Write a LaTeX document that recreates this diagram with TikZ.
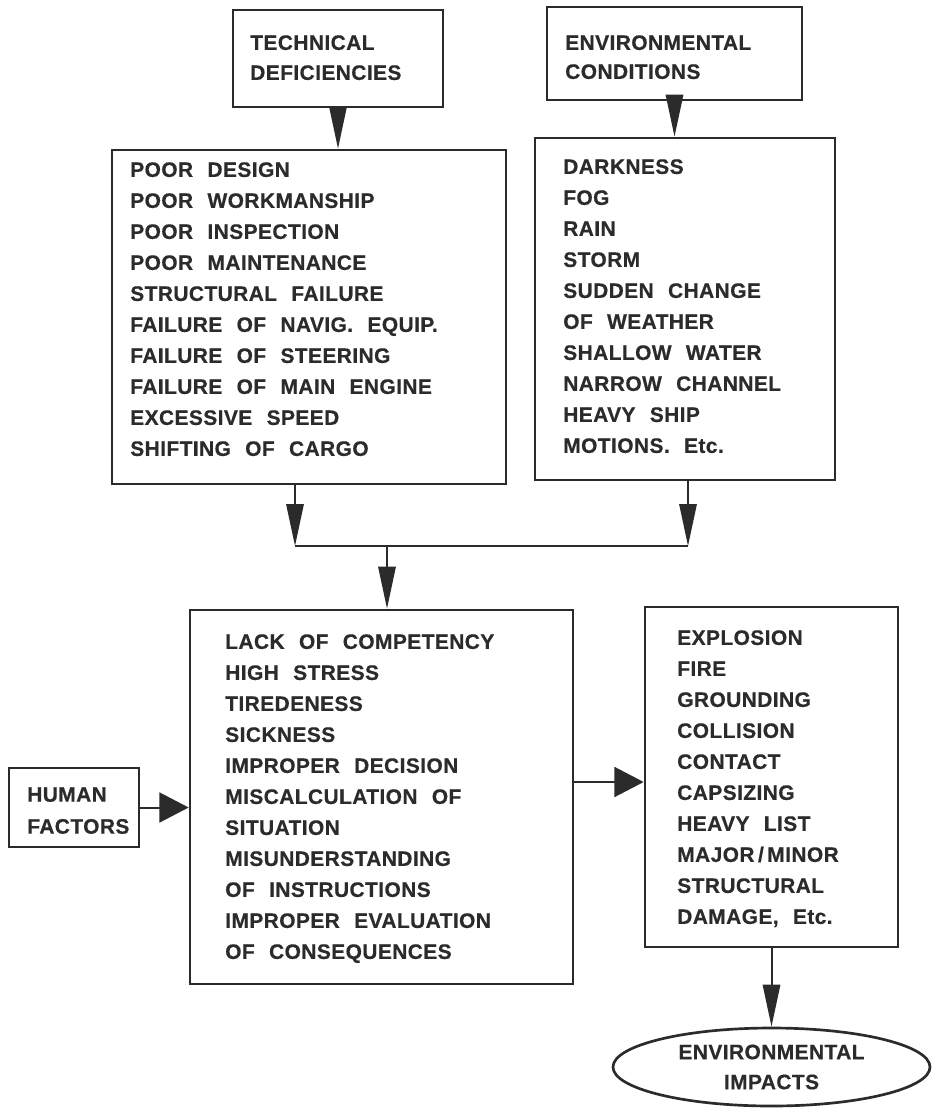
\documentclass[tikz,border=0pt]{standalone}
\usepackage{fontspec}
\setmainfont{Liberation Sans}[WordSpace=2.3, LetterSpace=2, BoldFeatures={FakeBold=0.5}]
\usetikzlibrary{arrows.meta,shapes.geometric}
\definecolor{ink}{HTML}{2B2B2B}
\tikzset{
  box/.style={draw=ink, line width=2pt, inner sep=0pt},
  txt/.style={anchor=north west, inner sep=0pt, align=left, text=ink,
    font=\fontsize{15.7}{23.25}\selectfont\bfseries},
  vtip/.style={draw=ink, line width=1.5pt, -{Triangle[length=31.5pt,width=13pt]}},
  htip/.style={draw=ink, line width=1.5pt, -{Triangle[length=22pt,width=22.5pt]}},
  link/.style={draw=ink, line width=1.5pt}
}
\begin{document}
\begin{tikzpicture}[x=0.75pt,y=-0.75pt]
\fill[white] (0,0) rectangle (933,1112);
\useasboundingbox (0,0) rectangle (933,1112);
% boxes
\node[box, minimum width=210*0.75pt, minimum height=97*0.75pt] (th) at (338,58.5) {};
\node[box, minimum width=255*0.75pt, minimum height=93*0.75pt] (eh) at (674.5,53.5) {};
\node[box, minimum width=394*0.75pt, minimum height=334*0.75pt] (tl) at (309,317) {};
\node[box, minimum width=300*0.75pt, minimum height=342*0.75pt] (el) at (685,309) {};
\node[box, minimum width=383*0.75pt, minimum height=374*0.75pt] (mid) at (381.5,797) {};
\node[box, minimum width=130*0.75pt, minimum height=79*0.75pt] (hf) at (74,807.5) {};
\node[box, minimum width=253*0.75pt, minimum height=340*0.75pt] (rb) at (771.5,777) {};
\node[box, ellipse, minimum width=317*0.75pt, minimum height=78*0.75pt, align=center,
  text=ink, font=\fontsize{15.7}{22.5}\selectfont\bfseries] (imp) at (771.5,1067) {ENVIRONMENTAL\\IMPACTS};
% texts
\node[txt, font=\fontsize{15.7}{22.5}\selectfont\bfseries] (tht) at (250,35) {TECHNICAL\\DEFICIENCIES};
\node[txt, font=\fontsize{15.7}{21.75}\selectfont\bfseries] (eht) at (565,35) {ENVIRONMENTAL\\CONDITIONS};
\node[txt] (tlt) at (130,162) {POOR DESIGN\\POOR WORKMANSHIP\\POOR INSPECTION\\POOR MAINTENANCE\\STRUCTURAL FAILURE\\FAILURE OF NAVIG. EQUIP.\\FAILURE OF STEERING\\FAILURE OF MAIN ENGINE\\EXCESSIVE SPEED\\SHIFTING OF CARGO};
\node[txt] (elt) at (563,159) {DARKNESS\\FOG\\RAIN\\STORM\\SUDDEN CHANGE\\OF WEATHER\\SHALLOW WATER\\NARROW CHANNEL\\HEAVY SHIP\\MOTIONS. Etc.};
\node[txt] (midt) at (225,634) {LACK OF COMPETENCY\\HIGH STRESS\\TIREDENESS\\SICKNESS\\IMPROPER DECISION\\MISCALCULATION OF\\SITUATION\\MISUNDERSTANDING\\OF INSTRUCTIONS\\IMPROPER EVALUATION\\OF CONSEQUENCES};
\node[txt, font=\fontsize{15.7}{24}\selectfont\bfseries] (hft) at (27,787) {HUMAN\\FACTORS};
\node[txt] (rbt) at (677,630) {EXPLOSION\\FIRE\\GROUNDING\\COLLISION\\CONTACT\\CAPSIZING\\HEAVY LIST\\MAJOR\,/\,MINOR\\STRUCTURAL\\DAMAGE, Etc.};
% connectors
\coordinate (jl) at (295,546);
\coordinate (jr) at (688,546);
\coordinate (jc) at (387,546);
\coordinate (ya) at (0,782);
\draw[vtip] (th.south) -- (th.south |- tl.north);
\draw[vtip] (eh.south) -- (eh.south |- el.north);
\draw[vtip] (tl.south -| jl) -- (jl);
\draw[vtip] (el.south -| jr) -- (jr);
\draw[link] (jl) -- (jr);
\draw[vtip] (jc) -- (jc |- mid.north);
\draw[htip] (hf.east) -- (hf.east -| mid.west);
\draw[htip] (mid.east |- ya) -- (rb.west |- ya);
\draw[vtip] (rb.south) -- (imp.north);
\end{tikzpicture}
\end{document}
